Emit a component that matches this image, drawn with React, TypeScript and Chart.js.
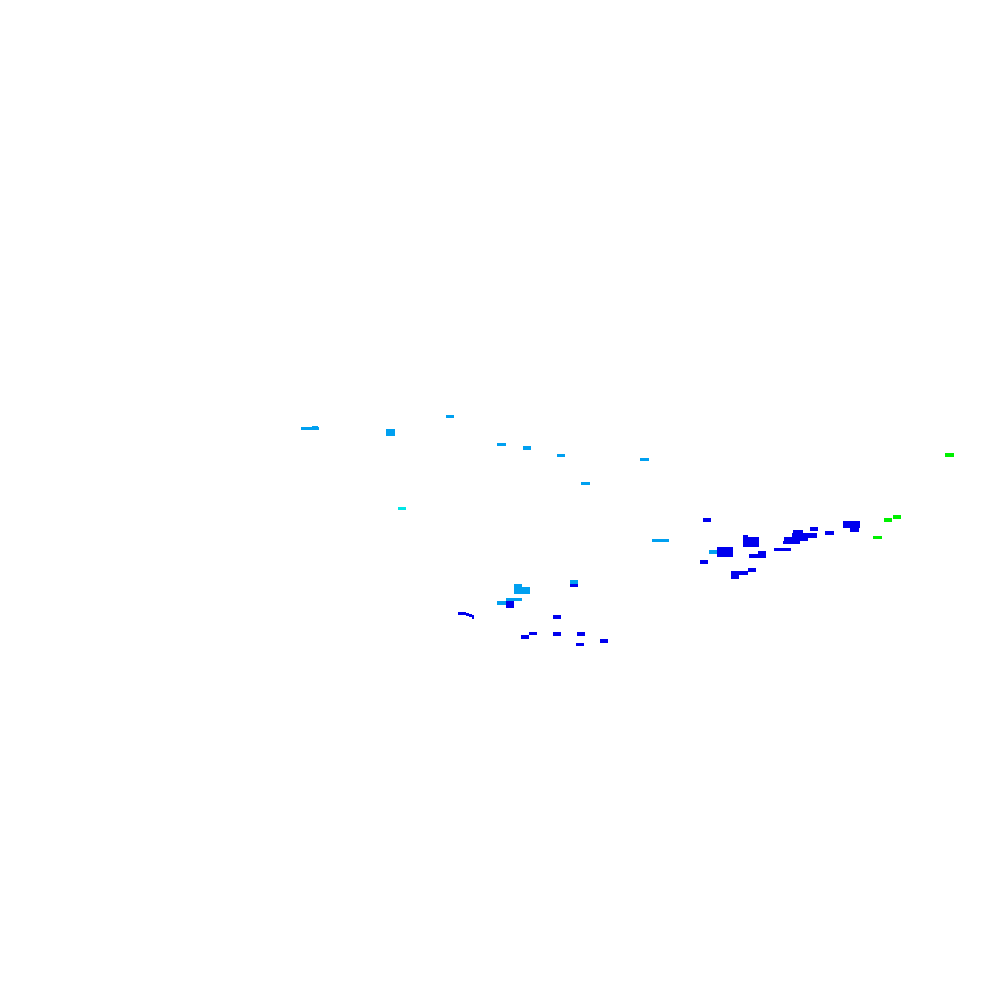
import React, { useEffect, useRef } from "react";
import { Chart, registerables } from "chart.js";

Chart.register(...registerables);

// Each cell: [x0, y0, x1, y1] in plot units
const levelColors = ["#0000ee", "#00a0f0", "#00e6e6", "#00f000"];

const blueCells: number[][] = [
  [570, 584, 578, 587],
  [506, 601, 514, 608],
  [458, 612, 466, 615],
  [466, 613, 469, 616],
  [469, 614, 472, 617],
  [472, 615, 474, 619],
  [553, 615, 561, 619],
  [521, 636, 529, 640],
  [529, 633, 537, 636],
  [553, 633, 561, 637],
  [577, 633, 585, 637],
  [576, 644, 584, 647],
  [600, 640, 608, 644],
  [704, 518, 712, 522],
  [718, 547, 734, 557],
  [701, 560, 709, 564],
  [744, 537, 760, 547],
  [744, 535, 749, 537],
  [750, 554, 767, 558],
  [759, 551, 767, 554],
  [775, 548, 792, 551],
  [732, 571, 749, 575],
  [732, 575, 740, 579],
  [749, 568, 757, 572],
  [794, 530, 804, 533],
  [793, 533, 818, 538],
  [811, 527, 819, 531],
  [785, 537, 809, 541],
  [784, 541, 801, 544],
  [826, 531, 835, 535],
  [844, 521, 861, 528],
  [851, 528, 860, 532],
];

const lightBlueCells: number[][] = [
  [300, 427, 318, 430],
  [311, 426, 317, 427],
  [386, 429, 395, 436],
  [446, 415, 454, 418],
  [497, 443, 506, 446],
  [523, 446, 531, 450],
  [557, 454, 565, 457],
  [641, 458, 650, 461],
  [581, 482, 590, 485],
  [653, 539, 670, 542],
  [514, 584, 522, 587],
  [514, 587, 530, 594],
  [570, 580, 578, 584],
  [497, 601, 506, 605],
  [506, 598, 522, 601],
  [710, 550, 718, 554],
];

const cyanCells: number[][] = [[398, 507, 406, 510]];

const greenCells: number[][] = [
  [947, 453, 956, 457],
  [895, 515, 903, 519],
  [886, 518, 894, 522],
  [875, 536, 884, 539],
];

const groups = [blueCells, lightBlueCells, cyanCells, greenCells];

const styleCache = new Map<string, HTMLCanvasElement>();
function rectStyle(w: number, h: number, color: string) {
  const key = `${w}x${h}-${color}`;
  let c = styleCache.get(key);
  if (!c) {
    c = document.createElement("canvas");
    c.width = Math.max(1, Math.round(w));
    c.height = Math.max(1, Math.round(h));
    const g = c.getContext("2d")!;
    g.fillStyle = color;
    g.fillRect(0, 0, c.width, c.height);
    styleCache.set(key, c);
  }
  return c;
}

export default function App() {
  const ref = useRef<HTMLCanvasElement>(null);
  useEffect(() => {
    if (!ref.current) return;
    const datasets = groups.map((cells, i) => ({
      label: `level${i}`,
      data: cells.map((c) => ({ x: (c[0] + c[2]) / 2, y: (c[1] + c[3]) / 2, x0: c[0], y0: c[1], x1: c[2], y1: c[3] })),
      pointRadius: 1,
      pointHoverRadius: 1,
      pointStyle: (ctx: any) => {
        const raw = ctx.raw;
        const sx = ctx.chart.scales.x;
        const sy = ctx.chart.scales.y;
        if (!raw || !sx || !sy) return "rect";
        const w = Math.abs(sx.getPixelForValue(raw.x1) - sx.getPixelForValue(raw.x0));
        const h = Math.abs(sy.getPixelForValue(raw.y1) - sy.getPixelForValue(raw.y0));
        return rectStyle(w, h, levelColors[i]);
      },
    }));
    const chart = new Chart(ref.current, {
      type: "scatter",
      data: { datasets } as any,
      options: {
        animation: false,
        responsive: false,
        devicePixelRatio: 1,
        layout: { padding: 0 },
        plugins: { legend: { display: false }, tooltip: { enabled: false } },
        scales: {
          x: { type: "linear", min: 0, max: 1000, display: false },
          y: { type: "linear", min: 0, max: 1000, reverse: true, display: false },
        },
      } as any,
    });
    return () => chart.destroy();
  }, []);
  return (
    <div style={{ position: "fixed", left: 0, top: 0, width: 1000, height: 1000, background: "#fff" }}>
      <canvas ref={ref} width={1000} height={1000} style={{ width: 1000, height: 1000, display: "block" }} />
    </div>
  );
}
